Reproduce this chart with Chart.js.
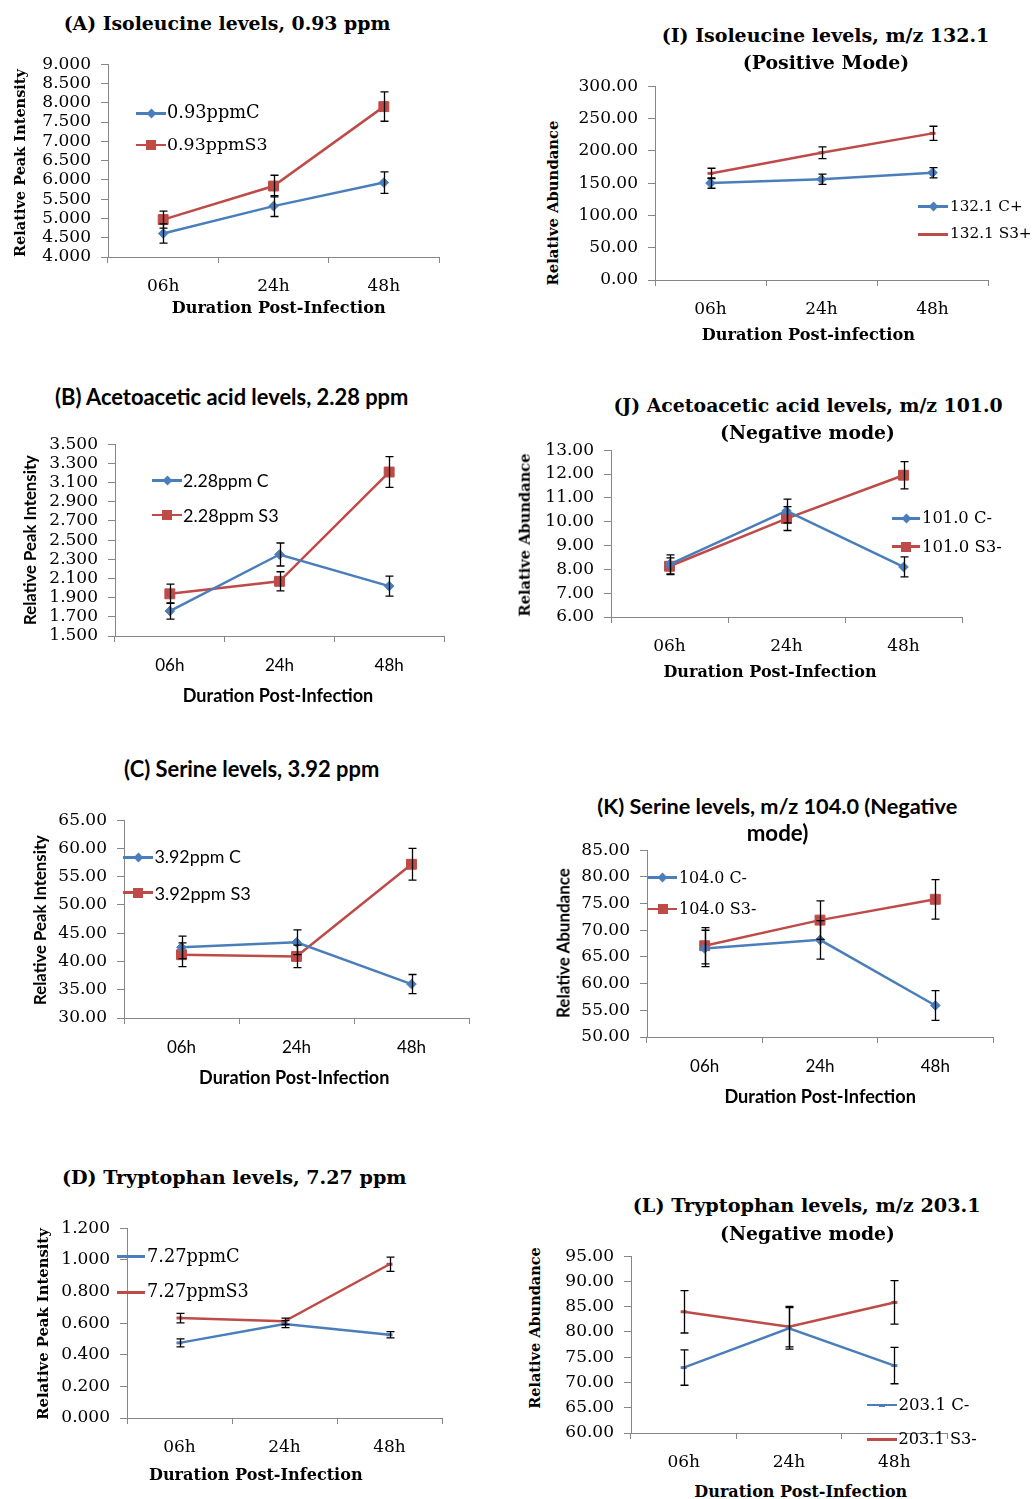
<!DOCTYPE html>
<html>
<head>
<meta charset="utf-8">
<script src="https://cdn.jsdelivr.net/npm/chart.js@4.4.1/dist/chart.umd.min.js"></script>
<style>
  body { margin: 0; background: #fff; width: 1035px; height: 1499px; position: relative; overflow: hidden; }
  canvas { position: absolute; }
  .t { position: absolute; white-space: nowrap; color: #000; line-height: 1; }
  .lg { position: absolute; }
</style>
</head>
<body>
<script>
// categories
const hours = ['06h', '24h', '48h'];

// (A) Isoleucine, 0.93 ppm
const isoNmrNames = ['0.93ppmC', '0.93ppmS3'];
const isoNmrC = [4.61, 5.32, 5.93];
const isoNmrCErr = [0.25, 0.27, 0.28];
const isoNmrS3 = [4.97, 5.84, 7.90];
const isoNmrS3Err = [0.22, 0.28, 0.38];

// (I) Isoleucine, m/z 132.1
const isoMsNames = ['132.1 C+', '132.1 S3+'];
const isoMsC = [150, 156, 166];
const isoMsCErr = [8, 8, 8];
const isoMsS3 = [165, 197, 227];
const isoMsS3Err = [8, 9, 11];

// (B) Acetoacetic acid, 2.28 ppm
const acaNmrNames = ['2.28ppm C', '2.28ppm S3'];
const acaNmrC = [1.76, 2.35, 2.02];
const acaNmrCErr = [0.085, 0.12, 0.105];
const acaNmrS3 = [1.94, 2.07, 3.21];
const acaNmrS3Err = [0.10, 0.10, 0.16];

// (J) Acetoacetic acid, m/z 101.0
const acaMsNames = ['101.0 C-', '101.0 S3-'];
const acaMsC = [8.21, 10.45, 8.10];
const acaMsCErr = [0.40, 0.50, 0.42];
const acaMsS3 = [8.13, 10.13, 11.95];
const acaMsS3Err = [0.35, 0.50, 0.57];

// (C) Serine, 3.92 ppm
const serNmrNames = ['3.92ppm C', '3.92ppm S3'];
const serNmrC = [42.5, 43.4, 36.0];
const serNmrCErr = [2.0, 2.2, 1.7];
const serNmrS3 = [41.2, 40.9, 57.2];
const serNmrS3Err = [2.1, 2.0, 2.8];

// (K) Serine, m/z 104.0
const serMsNames = ['104.0 C-', '104.0 S3-'];
const serMsC = [66.6, 68.2, 55.9];
const serMsCErr = [3.4, 3.6, 2.8];
const serMsS3 = [67.1, 71.9, 75.8];
const serMsS3Err = [3.4, 3.6, 3.7];

// (D) Tryptophan, 7.27 ppm
const trpNmrNames = ['7.27ppmC', '7.27ppmS3'];
const trpNmrC = [0.475, 0.594, 0.526];
const trpNmrCErr = [0.025, 0.022, 0.02];
const trpNmrS3 = [0.632, 0.611, 0.972];
const trpNmrS3Err = [0.03, 0.02, 0.045];

// (L) Tryptophan, m/z 203.1
const trpMsNames = ['203.1 C-', '203.1 S3-'];
const trpMsC = [72.95, 80.7, 73.35];
const trpMsCErr = [3.5, 4.1, 3.6];
const trpMsS3 = [84.0, 81.05, 85.85];
const trpMsS3Err = [4.2, 4.0, 4.3];

const BLUE = '#4a7ebb', RED = '#be4b48', AXIS = '#868686';
const SERIF = 'DejaVu Serif', SANS = 'Lato';

// error bars drawn on top of the lines
const errorBars = {
  id: 'errorBars',
  afterDatasetsDraw(chart) {
    const ctx = chart.ctx, y = chart.scales.y;
    ctx.save();
    ctx.strokeStyle = '#000';
    ctx.lineWidth = 1.3;
    chart.data.datasets.forEach((ds, i) => {
      const meta = chart.getDatasetMeta(i);
      ds.data.forEach((v, j) => {
        const px = Math.round(meta.data[j].x) + 0.5;
        const top = y.getPixelForValue(v + ds.errors[j]);
        const bot = y.getPixelForValue(v - ds.errors[j]);
        ctx.beginPath();
        ctx.moveTo(px, top); ctx.lineTo(px, bot);
        ctx.moveTo(px - 4, top); ctx.lineTo(px + 4, top);
        ctx.moveTo(px - 4, bot); ctx.lineTo(px + 4, bot);
        ctx.stroke();
      });
    });
    ctx.restore();
  }
};

function series(names, c, cErr, s3, s3Err, mC, mS) {
  return [
    { label: names[0], data: c, err: cErr, color: BLUE, marker: mC[0], r: mC[1] },
    { label: names[1], data: s3, err: s3Err, color: RED, marker: mS[0], r: mS[1] }
  ];
}

const DIA = ['rectRot', 4.8], SQ = ['rect', 7], DASH = ['line', 3];

const panels = [
  { plot: [108, 64, 439, 257], min: 4, max: 9, step: 0.5, dec: 3, xTick: SERIF,
    series: series(isoNmrNames, isoNmrC, isoNmrCErr, isoNmrS3, isoNmrS3Err, DIA, SQ),
    legend: { x0: 136, x1: 166, tx: 167, ys: [113.3, 145], ws: [92.7, 100.7], fam: SERIF },
    texts: [
      ['(A) Isoleucine levels, 0.93 ppm', 227, 23, SERIF, 327],
      ['Relative Peak Intensity', 20, 162.5, SERIF, 188, true],
      ['Duration Post-Infection', 278.7, 308.3, SERIF, 214]
    ] },
  { plot: [655, 86, 988, 280], min: 0, max: 300, step: 50, dec: 2, xTick: SERIF,
    series: series(isoMsNames, isoMsC, isoMsCErr, isoMsS3, isoMsS3Err, DIA, DASH),
    legend: { x0: 918, x1: 948, tx: 950, ys: [206.7, 234.3], ws: [72.7, 81.7], fam: SERIF },
    texts: [
      ['(I) Isoleucine levels, m/z 132.1', 825.5, 35, SERIF, 327.7],
      ['(Positive Mode)', 826, 61.7, SERIF, 166.7],
      ['Relative Abundance', 553.3, 202.5, SERIF, 165, true],
      ['Duration Post-infection', 808.3, 335, SERIF, 213.3]
    ] },
  { plot: [115, 444, 444, 636], min: 1.5, max: 3.5, step: 0.2, dec: 3, xTick: SANS,
    series: series(acaNmrNames, acaNmrC, acaNmrCErr, acaNmrS3, acaNmrS3Err, DIA, SQ),
    legend: { x0: 152, x1: 182, tx: 183, ys: [480.7, 515], ws: [85.7, 95.7], fam: SANS },
    texts: [
      ['(B) Acetoacetic acid levels, 2.28 ppm', 231.7, 396.7, SANS, 353.3],
      ['Relative Peak Intensity', 30, 540, SANS, 170, true],
      ['Duration Post-Infection', 278, 695, SANS, 190.7]
    ] },
  { plot: [611, 450, 962, 617], min: 6, max: 13, step: 1, dec: 2, xTick: SERIF,
    series: series(acaMsNames, acaMsC, acaMsCErr, acaMsS3, acaMsS3Err, DIA, SQ),
    legend: { x0: 892, x1: 920, tx: 922, ys: [518.3, 546.7], ws: [70, 80], fam: SERIF },
    texts: [
      ['(J) Acetoacetic acid levels, m/z 101.0', 808, 405, SERIF, 389.3],
      ['(Negative mode)', 807.5, 431.7, SERIF, 175],
      ['Relative Abundance', 525, 535, SERIF, 163.3, true],
      ['Duration Post-Infection', 770, 671.7, SERIF, 213.3]
    ] },
  { plot: [124, 820, 469, 1018], min: 30, max: 65, step: 5, dec: 2, xTick: SANS,
    series: series(serNmrNames, serNmrC, serNmrCErr, serNmrS3, serNmrS3Err, DIA, SQ),
    legend: { x0: 123, x1: 153, tx: 154.5, ys: [857.3, 892.7], ws: [86.3, 96.3], fam: SANS },
    texts: [
      ['(C) Serine levels, 3.92 ppm', 251.7, 769.3, SANS, 255.3],
      ['Relative Peak Intensity', 40, 920, SANS, 170, true],
      ['Duration Post-Infection', 294.2, 1077.3, SANS, 190.3]
    ] },
  { plot: [647, 850, 993, 1037], min: 50, max: 85, step: 5, dec: 2, xTick: SANS,
    series: series(serMsNames, serMsC, serMsCErr, serMsS3, serMsS3Err, DIA, SQ),
    legend: { x0: 648, x1: 677, tx: 679, ys: [877.7, 909], ws: [68, 77.3], fam: SERIF },
    texts: [
      ['(K) Serine levels, m/z 104.0 (Negative', 777.3, 806.7, SANS, 360],
      ['mode)', 777.5, 833.3, SANS, 61.7],
      ['Relative Abundance', 563.3, 943.3, SANS, 150, true],
      ['Duration Post-Infection', 820.2, 1096, SANS, 191.7]
    ] },
  { plot: [127, 1228, 442, 1418], min: 0, max: 1.2, step: 0.2, dec: 3, xTick: SERIF,
    series: series(trpNmrNames, trpNmrC, trpNmrCErr, trpNmrS3, trpNmrS3Err, DASH, DASH),
    legend: { x0: 117, x1: 145, tx: 147, ys: [1256.7, 1292.3], ws: [92.7, 101.7], fam: SERIF },
    texts: [
      ['(D) Tryptophan levels, 7.27 ppm', 234.2, 1178.3, SERIF, 345],
      ['Relative Peak Intensity', 43.3, 1324.2, SERIF, 191.7, true],
      ['Duration Post-Infection', 255.8, 1475, SERIF, 213.7]
    ] },
  { plot: [631, 1256, 947, 1433], min: 60, max: 95, step: 5, dec: 2, xTick: SERIF,
    series: series(trpMsNames, trpMsC, trpMsCErr, trpMsS3, trpMsS3Err, DASH, DASH),
    legend: { x0: 867, x1: 897, tx: 898.5, ys: [1405, 1439.3], ws: [71, 78.3], fam: SERIF },
    texts: [
      ['(L) Tryptophan levels, m/z 203.1', 806.7, 1206, SERIF, 348],
      ['(Negative mode)', 807.5, 1232.7, SERIF, 175],
      ['Relative Abundance', 535, 1327.5, SERIF, 161.7, true],
      ['Duration Post-Infection', 800.8, 1491.7, SERIF, 213]
    ] }
];

const YW = 85, PT = 14, PR = 6, XH = 48;

function makeChart(cv, p) {
  return new Chart(cv, {
    type: 'line',
    data: {
      labels: hours,
      datasets: p.series.map(s => ({
        label: s.label,
        data: s.data,
        errors: s.err,
        borderColor: s.color,
        backgroundColor: s.color,
        borderWidth: 2.5,
        pointStyle: s.marker,
        pointRadius: s.r,
        pointBorderWidth: s.marker === 'line' ? 3 : 1,
        tension: 0,
        clip: false
      }))
    },
    options: {
      responsive: false,
      animation: false,
      layout: { padding: { top: PT, right: PR, left: 0, bottom: 0 } },
      plugins: { legend: { display: false }, tooltip: { enabled: false } },
      scales: {
        x: {
          offset: true,
          afterFit: s => { s.height = XH; },
          grid: { offset: true, drawOnChartArea: false, tickLength: 6, color: AXIS },
          border: { color: AXIS },
          ticks: { color: '#000', font: { family: p.xTick, size: 17 }, padding: 13.5 }
        },
        y: {
          min: p.min, max: p.max,
          afterFit: s => { s.width = YW; },
          grid: { drawOnChartArea: false, tickLength: 7, color: AXIS },
          border: { color: AXIS },
          ticks: {
            stepSize: p.step, autoSkip: false, color: '#000', padding: 10,
            font: { family: SERIF, size: 17 },
            callback: v => v.toFixed(p.dec)
          }
        }
      }
    },
    plugins: [errorBars]
  });
}

function drawPanel(p) {
  const [x0, y0, x1, y1] = p.plot;
  let w = (x1 - x0) + YW + PR, h = (y1 - y0) + PT + XH;
  const cv = document.createElement('canvas');
  cv.width = w; cv.height = h;
  document.body.appendChild(cv);
  let chart = makeChart(cv, p);
  // second pass: size the canvas so the plot area lands on the reference box
  const a = chart.chartArea;
  const dw = Math.round((x1 - x0) - (a.right - a.left));
  const dh = Math.round((y1 - y0) - (a.bottom - a.top));
  if (dw || dh) {
    chart.destroy();
    w += dw; h += dh;
    cv.width = w; cv.height = h;
    cv.style.width = w + 'px'; cv.style.height = h + 'px';
    chart = makeChart(cv, p);
  }
  cv.style.left = (x0 - chart.chartArea.left) + 'px';
  cv.style.top = (y0 - chart.chartArea.top) + 'px';
}

function addText(str, x, y, fam, width, rot, bold, left) {
  const el = document.createElement('div');
  el.className = 't';
  el.textContent = str;
  el.style.fontFamily = '"' + fam + '"';
  el.style.fontWeight = bold ? 'bold' : 'normal';
  el.style.fontSize = '20px';
  document.body.appendChild(el);
  const size = 20 * width / el.getBoundingClientRect().width;
  el.style.fontSize = size.toFixed(2) + 'px';
  el.style.left = x + 'px';
  el.style.top = y + 'px';
  el.style.transform = left ? 'translateY(-50%)' : 'translate(-50%,-50%)' + (rot ? ' rotate(-90deg)' : '');
}

function addLegend(p) {
  const L = p.legend;
  p.series.forEach((s, i) => {
    const y = L.ys[i];
    const line = document.createElement('div');
    line.className = 'lg';
    line.style.cssText += `left:${L.x0}px;top:${y - 1.25}px;width:${L.x1 - L.x0}px;height:2.5px;background:${s.color}`;
    document.body.appendChild(line);
    const cx = (L.x0 + L.x1) / 2;
    const m = document.createElement('div');
    m.className = 'lg';
    if (s.marker === 'rectRot') {
      m.style.cssText += `left:${cx - 3.5}px;top:${y - 3.5}px;width:7px;height:7px;background:${s.color};transform:rotate(45deg)`;
    } else if (s.marker === 'rect') {
      m.style.cssText += `left:${cx - 5}px;top:${y - 5}px;width:10px;height:10px;background:${s.color}`;
    } else {
      m.style.cssText += `left:${cx - 3}px;top:${y - 1.5}px;width:6px;height:3px;background:${s.color}`;
    }
    document.body.appendChild(m);
    addText(s.label, L.tx, y, L.fam, L.ws[i], false, false, true);
  });
}

panels.forEach(drawPanel);
panels.forEach(p => {
  p.texts.forEach(t => addText(t[0], t[1], t[2], t[3], t[4], t[5], true, false));
  addLegend(p);
});
</script>
</body>
</html>
